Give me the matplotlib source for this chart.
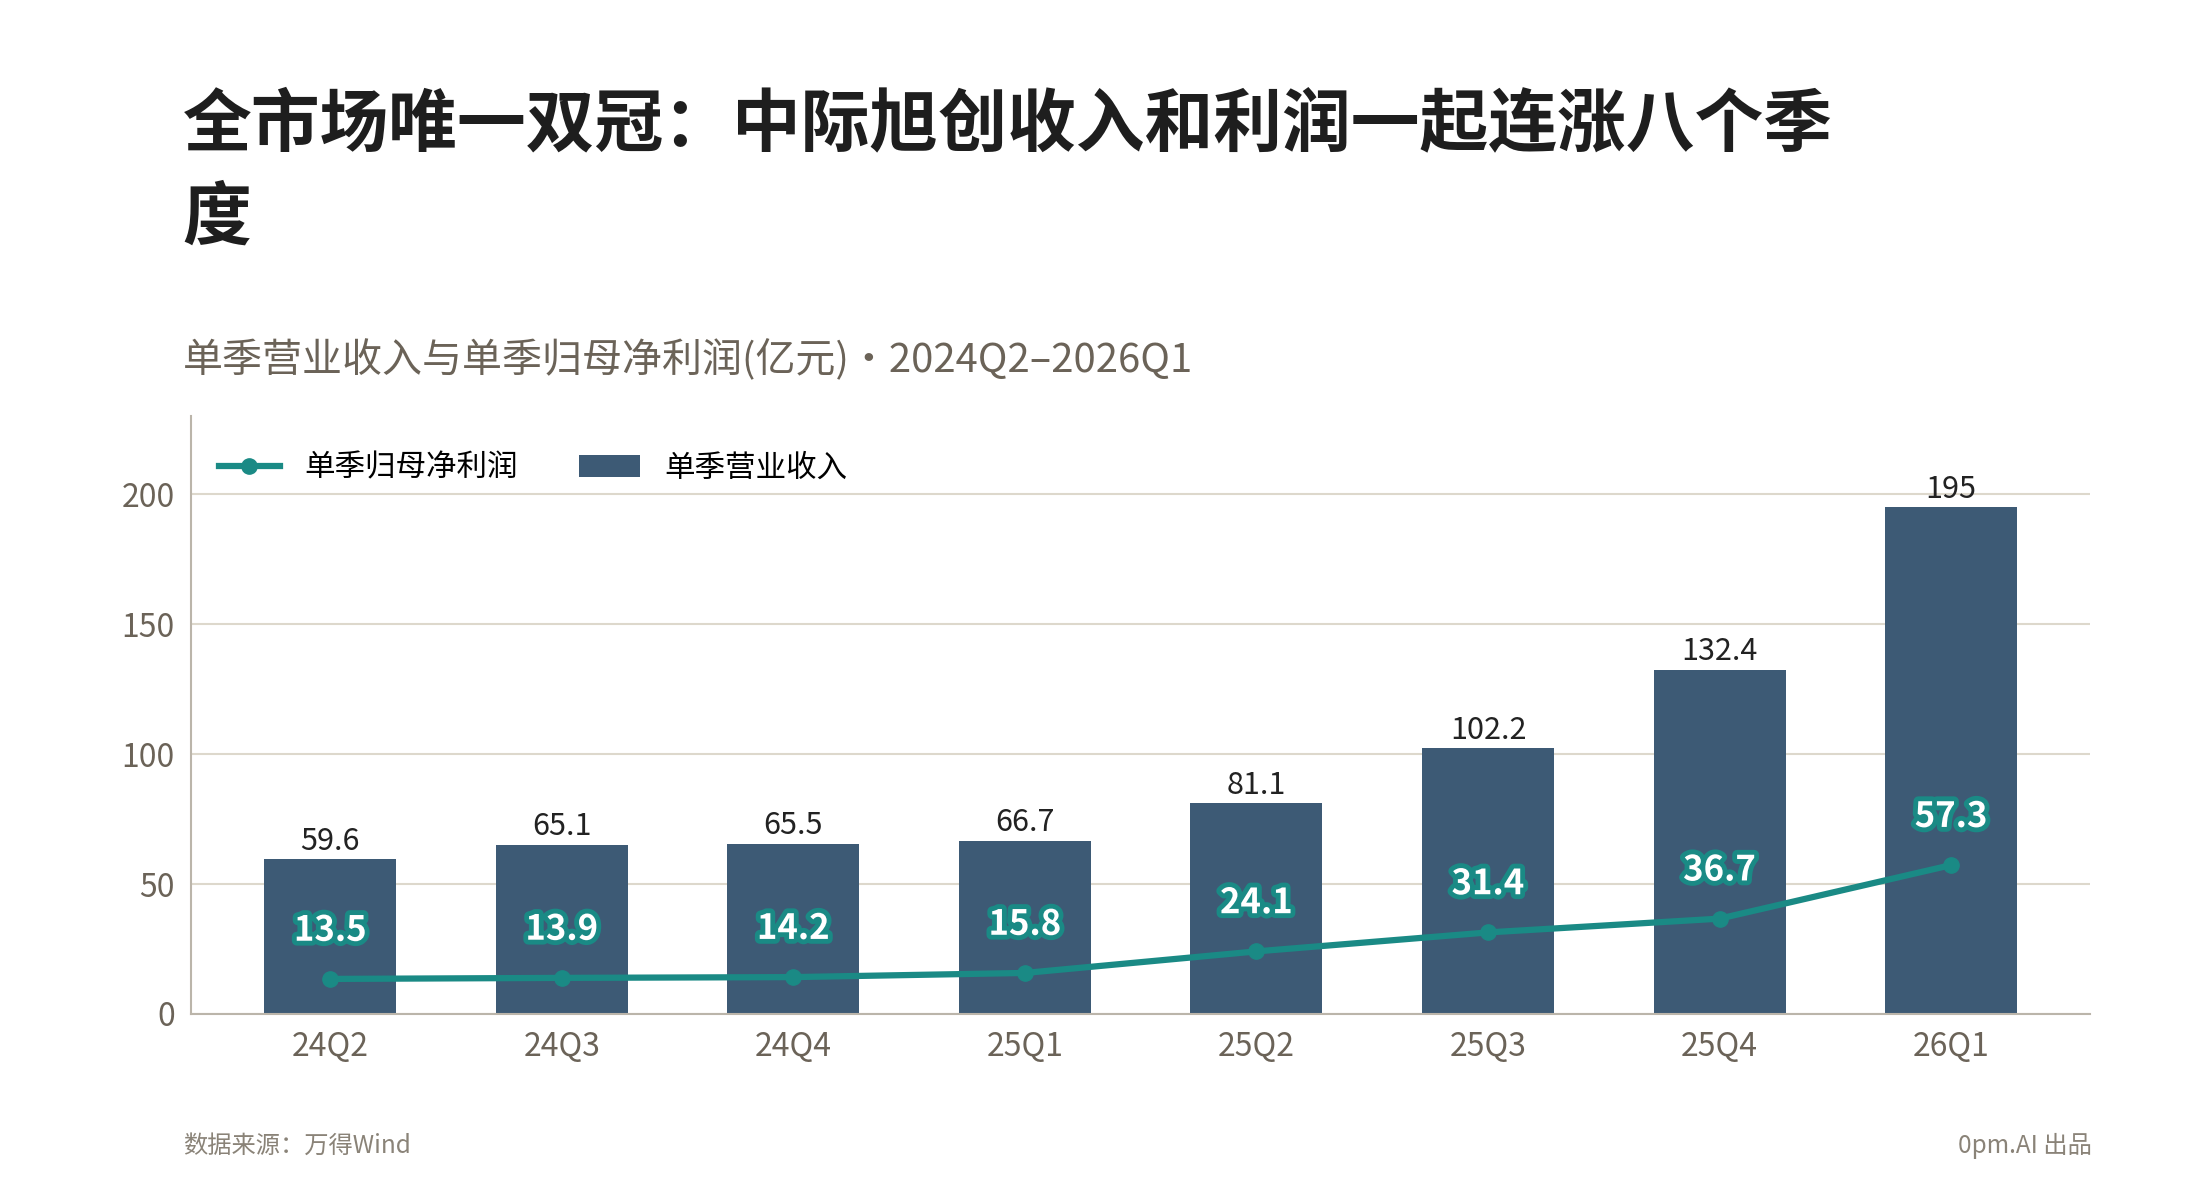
import matplotlib.pyplot as plt
import matplotlib.patheffects as pe
import numpy as np

plt.rcParams['font.family'] = ['Noto Sans CJK SC', 'DejaVu Sans']

quarters = ['24Q2', '24Q3', '24Q4', '25Q1', '25Q2', '25Q3', '25Q4', '26Q1']
revenue = [59.6, 65.1, 65.5, 66.7, 81.1, 102.2, 132.4, 195]
revenue_labels = ['59.6', '65.1', '65.5', '66.7', '81.1', '102.2', '132.4', '195']
profit = [13.5, 13.9, 14.2, 15.8, 24.1, 31.4, 36.7, 57.3]

bar_c = '#3d5a75'
line_c = '#1a8a85'
grey = '#6b6358'

fig = plt.figure(figsize=(22, 12), dpi=100)
ax = fig.add_axes([0.087, 0.155, 0.863, 0.498])
x = np.arange(len(quarters))

ax.bar(x, revenue, width=0.57, color=bar_c, label='单季营业收入', zorder=2)
ax.plot(x, profit, color=line_c, lw=4.5, marker='o', ms=11, label='单季归母净利润', zorder=3)

for i in range(len(x)):
    ax.text(x[i], revenue[i] + 1.0, revenue_labels[i], ha='center', va='bottom', fontsize=22, color='#222222')
    t = ax.text(x[i], profit[i] + 12, f'{profit[i]:.1f}', ha='center', va='bottom', fontsize=25,
                fontweight='bold', color='white', zorder=4)
    t.set_path_effects([pe.Stroke(linewidth=7, foreground=line_c), pe.Normal()])

ax.set_xlim(-0.6, 7.6)
ax.set_ylim(0, 230)
ax.set_yticks([0, 50, 100, 150, 200])
ax.set_xticks(x)
ax.set_xticklabels(quarters)
ax.tick_params(axis='both', labelsize=23, colors=grey, length=0, pad=12)
ax.yaxis.grid(True, color='#ddd8cc', lw=1.5, zorder=0)
ax.set_axisbelow(True)
for s in ['top', 'right']:
    ax.spines[s].set_visible(False)
for s in ['left', 'bottom']:
    ax.spines[s].set_color('#bbb5aa')
    ax.spines[s].set_linewidth(1.5)

leg = ax.legend(loc='upper left', ncol=2, frameon=False, fontsize=22, bbox_to_anchor=(0.0, 0.985),
                handlelength=2.0, columnspacing=2.0)

fig.text(0.083, 0.896, '全市场唯一双冠：中际旭创收入和利润一起连涨八个季', fontsize=49.5, fontweight='bold',
         color='#1e1e1e', va='center')
fig.text(0.083, 0.818, '度', fontsize=49.5, fontweight='bold', color='#1e1e1e', va='center')
fig.text(0.083, 0.700, '单季营业收入与单季归母净利润(亿元)・2024Q2–2026Q1', fontsize=28.8, color=grey, va='center')
fig.text(0.083, 0.045, '数据来源：万得Wind', fontsize=17.5, color='#8a8378', va='center')
fig.text(0.951, 0.045, '0pm.AI 出品', fontsize=17.5, color='#8a8378', va='center', ha='right')

fig.savefig('out.png', dpi=100, facecolor='white')
